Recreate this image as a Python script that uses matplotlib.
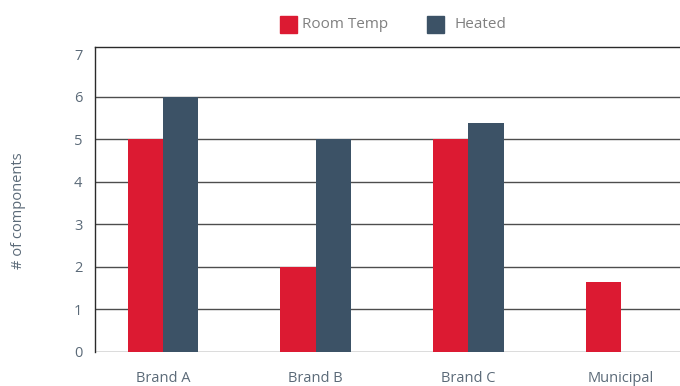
import matplotlib
matplotlib.use("Agg")
import matplotlib.pyplot as plt
import numpy as np
from matplotlib.patches import Rectangle

categories = ["Brand A", "Brand B", "Brand C", "Municipal"]
room_temp = [5, 2, 5, 1.63]
heated = [6, 5, 5.38, 0]
series_names = ["Room Temp", "Heated"]
yticks = [0, 1, 2, 3, 4, 5, 6, 7]

plt.rcParams['font.family'] = ['Open Sans', 'DejaVu Sans']

red = "#dc1a32"
slate = "#3c5266"
grid_c = "#4d4d4d"
txt = "#5b6a78"

W, H = 680, 386
fig = plt.figure(figsize=(6.8, 3.86), dpi=100)
ax = fig.add_axes([95/W, (H-351.7)/H, (W-95)/W, (351.7-47.3)/H])

x = np.arange(len(categories))
w = 0.232
ax.bar(x - w/2, room_temp, width=w, color=red, zorder=3)
ax.bar(x + w/2, heated, width=w, color=slate, zorder=3)

ax.set_xlim(-0.445, 3.386)
ax.set_ylim(0, 7.17)
ax.set_yticks(yticks)
for t in yticks[:-1]:
    ax.axhline(t, color=grid_c, linewidth=1.0, zorder=1)
for s in ["right", "bottom"]:
    ax.spines[s].set_visible(False)
for s in ["left", "top"]:
    ax.spines[s].set_color("#2a2a2a")
    ax.spines[s].set_linewidth(1.0)
ax.tick_params(axis="both", length=0, labelsize=10.5, colors=txt)
ax.tick_params(axis="y", pad=9)
ax.tick_params(axis="x", pad=14)
ax.set_xticks(x)
ax.set_xticklabels(categories)
ax.set_ylabel("# of components", fontsize=10.5, color=txt)
ax.yaxis.set_label_coords(-0.118, 0.462)

# legend (manual layout)
sq = 17
items = [(280, 302, red, series_names[0]), (427, 454, slate, series_names[1])]
for sx, tx, col, name in items:
    fig.patches.append(Rectangle((sx/W, (H-33)/H), sq/W, sq/H, transform=fig.transFigure,
                                 color=col, figure=fig))
    fig.text(tx/W, (H-24.5)/H, name, fontsize=11, color="#808080", va="center", ha="left")

fig.savefig("out.png", dpi=100)
